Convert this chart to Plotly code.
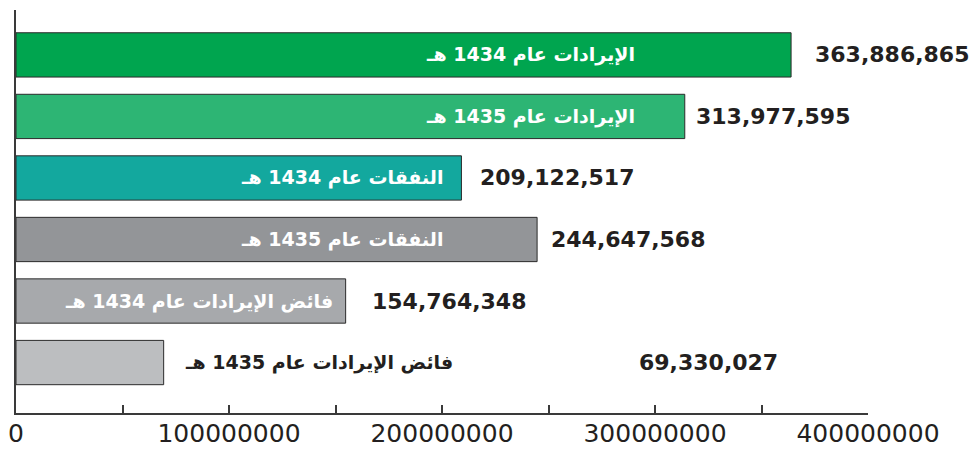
import plotly.graph_objects as go

# categories, top to bottom
labels = ['الإيرادات عام 1434 هـ', 'الإيرادات عام 1435 هـ',
          'النفقات عام 1434 هـ', 'النفقات عام 1435 هـ',
          'فائض الإيرادات عام 1434 هـ', 'فائض الإيرادات عام 1435 هـ']
values = [363886865, 313977595, 209122517, 244647568, 154764348, 69330027]
value_text = ['363,886,865', '313,977,595', '209,122,517', '244,647,568', '154,764,348', '69,330,027']
tick_vals = [0, 100000000, 200000000, 300000000, 400000000]
tick_text = ['0', '100000000', '200000000', '300000000', '400000000']

bar_colors = ['#00a54f', '#2db574', '#13a89e', '#939598', '#a7a9ac', '#bcbec0']
name_colors = ['white', 'white', 'white', 'white', 'white', '#231f20']
# where the label ends / starts, in axis units
name_right = [291.4e6, 291.4e6, 201.6e6, 201.6e6, 149.6e6, 205.9e6]
value_left = [374.0e6, 318.2e6, 216.7e6, 250.0e6, 166.0e6, 291.4e6]

fig = go.Figure()
fig.add_trace(go.Bar(
    x=values, y=labels, orientation='h',
    width=0.72,
    marker=dict(color=bar_colors, line=dict(color='#2b2b2b', width=1)),
    hoverinfo='skip',
))

for i, lab in enumerate(labels):
    fig.add_annotation(x=name_right[i], y=lab, text='<b>' + lab + '</b>',
                       xanchor='right', yanchor='middle', showarrow=False,
                       font=dict(family='DejaVu Sans', size=19, color=name_colors[i]))
    fig.add_annotation(x=value_left[i], y=lab, text='<b>' + value_text[i] + '</b>',
                       xanchor='left', yanchor='middle', showarrow=False,
                       font=dict(family='DejaVu Sans', size=22, color='#231f20'))

# page body adds 8px, so the figure is shrunk and margins trimmed by that much
fig.update_layout(
    width=971, height=442,
    margin=dict(l=8, r=111, t=2, b=37),
    plot_bgcolor='white', paper_bgcolor='white',
    showlegend=False,
    font=dict(family='DejaVu Sans', color='#231f20'),
)
fig.update_xaxes(range=[0, 400000000], tickvals=tick_vals, ticktext=tick_text,
                 showgrid=False, zeroline=False, automargin=False,
                 ticklabeloverflow='allow', ticklabelstandoff=-3,
                 showline=True, linecolor='#3a3a3a', linewidth=2,
                 ticks='inside', ticklen=8, tickwidth=2, tickcolor='#3a3a3a',
                 minor=dict(ticks='inside', ticklen=8, tickwidth=2, tickcolor='#3a3a3a', dtick=50000000),
                 tickfont=dict(size=25, color='#231f20'))
fig.update_yaxes(type='category', categoryarray=labels, range=[5.82, -0.73],
                 showticklabels=False, showgrid=False, zeroline=False, automargin=False,
                 showline=True, linecolor='#3a3a3a', linewidth=2, ticks='')

fig.write_html("out.html")
